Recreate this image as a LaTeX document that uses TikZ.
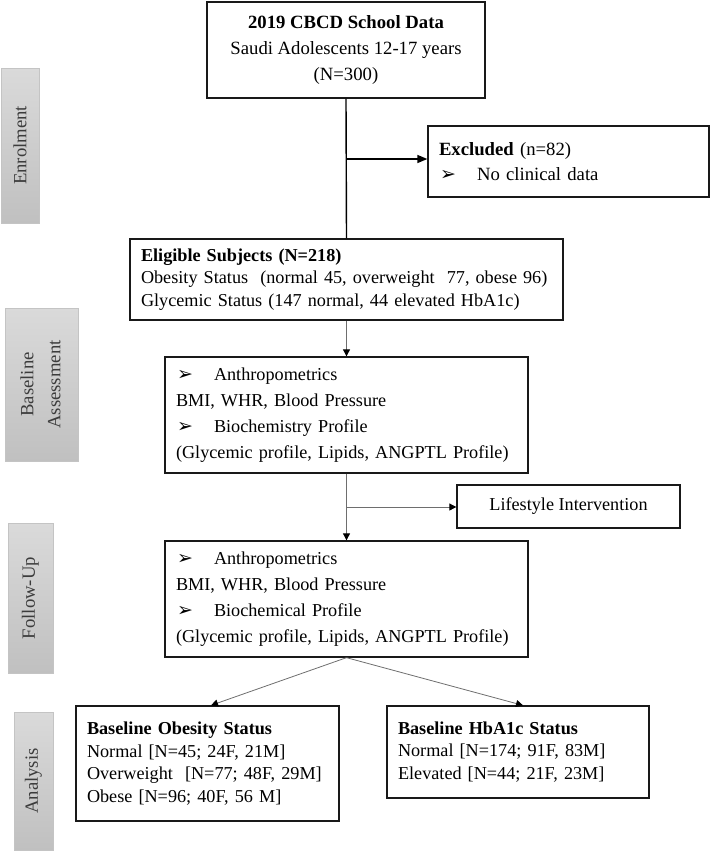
\documentclass[tikz,border=0pt]{standalone}
\usepackage{fontspec}
\setmainfont{Liberation Serif}
\newfontfamily\bulletfont{DejaVu Sans}
\usetikzlibrary{arrows.meta}
\definecolor{phasetop}{RGB}{218,218,218}
\definecolor{phasebottom}{RGB}{192,192,192}
\definecolor{phaseline}{RGB}{196,196,196}
\definecolor{phasetext}{RGB}{60,60,60}
\definecolor{linkgray}{RGB}{110,110,110}
\newcommand{\pointer}{\makebox[38pt][l]{\hspace{1pt}{\bulletfont\fontsize{19}{19}\selectfont ➢}}}
\tikzset{
    flowbox/.style={rectangle, draw=black!90, line width=1.3pt, inner xsep=11pt, inner ysep=0pt, align=left, font=\fontsize{18.2}{22.6}\selectfont},
    widebox/.style={flowbox, font=\fontsize{18.2}{26}\selectfont},
    stagebar/.style={rectangle, draw=phaseline, top color=phasetop, bottom color=phasebottom, text=phasetext, inner sep=0pt, font=\fontsize{18.7}{27}\selectfont},
    mainlink/.style={line width=1.4pt, black},
    sidelink/.style={line width=0.8pt, linkgray},
    boldarrow/.style={-{Triangle[length=10pt,width=8pt,color=black]}},
    thinarrow/.style={-{Triangle[length=7pt,width=7pt,color=black]}}
}
\begin{document}
\begin{tikzpicture}[x=1pt,y=-1pt]
    \useasboundingbox (0,0) rectangle (710,852);
    \node(enrolment) [stagebar, minimum width=38pt, minimum height=155pt] at (20,145.5){\rotatebox{90}{Enrolment}};
    \node(assessment) [stagebar, minimum width=73pt, minimum height=153pt] at (41.5,384.5){\rotatebox{90}{\begin{tabular}{@{}c@{}}Baseline\\Assessment\end{tabular}}};
    \node(followbar) [stagebar, minimum width=45pt, minimum height=150pt] at (30.5,598){\rotatebox{90}{Follow-Up}};
    \node(analysis) [stagebar, minimum width=39pt, minimum height=138pt] at (33.5,781){\rotatebox{90}{Analysis}};

    \node(data) [widebox, align=center, minimum width=278pt, minimum height=96pt, font=\fontsize{18.7}{26}\selectfont] at (346,50){
        \textbf{2019 CBCD School Data}\\Saudi Adolescents 12-17 years\\(N=300)};
    \node(excluded) [flowbox, text width=259pt, minimum height=71pt, font=\fontsize{18.7}{25}\selectfont] at (568.5,161.5){
        \textbf{Excluded} (n=82)\\\pointer No clinical data};
    \node(eligible) [flowbox, text width=411pt, minimum height=81pt] at (346.5,279.5){
        \textbf{Eligible Subjects (N=218)}\\
        Obesity Status\ \ (normal 45, overweight\ \ 77, obese 96)\\
        Glycemic\ Status (147 normal, 44 elevated HbA1c)};
    \node(baseline) [widebox, text width=341pt, minimum height=116pt] at (346.5,415){
        \pointer Anthropometrics\\
        BMI, WHR, Blood Pressure\\
        \pointer Biochemistry\ Profile\\
        (Glycemic\ profile, Lipids, ANGPTL\ Profile)};
    \node(lifestyle) [flowbox, align=center, minimum width=223pt, minimum height=43pt] at (568.5,506.5){
        Lifestyle Intervention};
    \node(followup) [widebox, text width=341pt, minimum height=116pt] at (346.5,599){
        \pointer Anthropometrics\\
        BMI, WHR, Blood Pressure\\
        \pointer Biochemical Profile\\
        (Glycemic\ profile, Lipids, ANGPTL\ Profile)};
    \node(obesity) [flowbox, text width=241pt, minimum height=115pt] at (207.5,763.5){
        \textbf{Baseline Obesity Status}\\
        Normal [N=45; 24F, 21M]\\
        Overweight\ \ [N=77; 48F, 29M]\\
        Obese [N=96; 40F, 56 M]};
    \node(hbaonec) [flowbox, text width=240pt, minimum height=92pt] at (518,752){
        \textbf{Baseline HbA1c Status}\\
        Normal [N=174; 91F, 83M]\\
        Elevated [N=44; 21F, 23M]};

    \coordinate(exclsplit) at (347,159);
    \coordinate(lifesplit) at (347,507);
    \draw[mainlink] (data.south) -- (eligible.north);
    \draw[mainlink, boldarrow] (exclsplit) -- (exclsplit -| excluded.west);
    \draw[sidelink, thinarrow] (eligible.south) -- (baseline.north);
    \draw[sidelink, thinarrow] (baseline.south) -- (followup.north);
    \draw[sidelink, thinarrow] (lifesplit) -- (lifesplit -| lifestyle.west);
    \draw[sidelink, thinarrow] (followup.south) -- ([xshift=3.5pt]obesity.north);
    \draw[sidelink, thinarrow] (followup.south) -- ([xshift=5pt]hbaonec.north);
\end{tikzpicture}
\end{document}
